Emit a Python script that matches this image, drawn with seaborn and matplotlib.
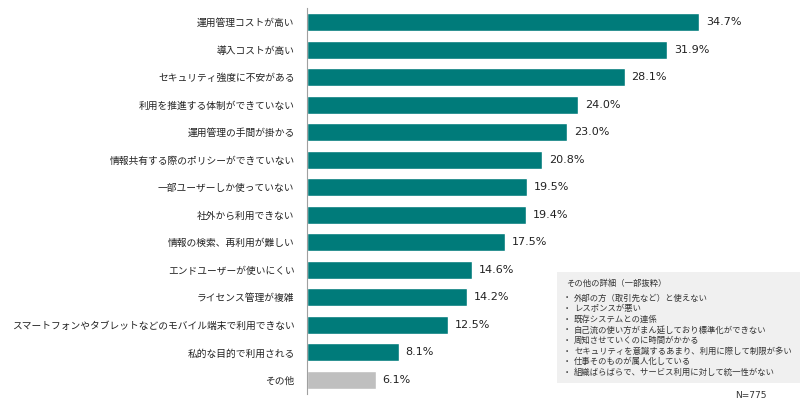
import matplotlib
matplotlib.use('Agg')
import matplotlib.pyplot as plt
import pandas as pd
import seaborn as sns
from matplotlib.patches import Rectangle
from matplotlib.ticker import FixedLocator

# Data
labels = [
    '運用管理コストが高い', '導入コストが高い', 'セキュリティ強度に不安がある',
    '利用を推進する体制ができていない', '運用管理の手間が掛かる',
    '情報共有する際のポリシーができていない', '一部ユーザーしか使っていない',
    '社外から利用できない', '情報の検索、再利用が難しい', 'エンドユーザーが使いにくい',
    'ライセンス管理が複雑', 'スマートフォンやタブレットなどのモバイル端末で利用できない',
    '私的な目的で利用される', 'その他',
]
values = [34.7, 31.9, 28.1, 24.0, 23.0, 20.8, 19.5, 19.4, 17.5, 14.6, 14.2, 12.5, 8.1, 6.1]
other_title = 'その他の詳細（一部抜粋）'
other_items = [
    '外部の方（取引先など）と使えない',
    'レスポンスが悪い',
    '既存システムとの連係',
    '自己流の使い方がまん延しており標準化ができない',
    '周知させていくのに時間がかかる',
    'セキュリティを意識するあまり、利用に際して制限が多い',
    '仕事そのものが属人化している',
    '組織ばらばらで、サービス利用に対して統一性がない',
]
n_text = 'N=775'

TEAL = '#007B7A'
GRAY = '#BFBFBF'

sns.set_theme(style='white')
plt.rcParams['font.family'] = ['Noto Sans CJK JP', 'DejaVu Sans']

df = pd.DataFrame({'label': labels, 'value': values})
colors = {lab: (GRAY if lab == 'その他' else TEAL) for lab in labels}

fig = plt.figure(figsize=(8, 4.03), dpi=100)
ax = fig.add_axes([0.38375, 0.023, 0.565, 0.9565])

sns.barplot(data=df, y='label', x='value', hue='label', palette=colors,
            order=labels, legend=False, width=0.65, saturation=1, ax=ax)

ax.set_xlim(0, 40)
ax.set_ylim(len(labels) - 0.5, -0.5)
ax.set_xlabel('')
ax.set_ylabel('')
ax.set_xticks([])

for sp in ['top', 'right', 'bottom']:
    ax.spines[sp].set_visible(False)
ax.spines['left'].set_color('#A0A0A0')
ax.spines['left'].set_linewidth(0.8)

ax.tick_params(axis='y', which='major', length=0, pad=9, labelsize=7, labelcolor='#222222')
ax.yaxis.set_minor_locator(FixedLocator([i - 0.5 for i in range(len(labels) + 1)]))
ax.tick_params(axis='y', which='minor', length=4, direction='inout', color='#A0A0A0', width=0.8)

for i, v in enumerate(values):
    ax.text(v + 0.6, i, f'{v:.1f}%', va='center', ha='left', fontsize=8,
            color='#222222', family=['DejaVu Sans'])

# Box with details of "other"
fig.patches.append(Rectangle((557 / 800, 1 - 383 / 403), 243 / 800, 111 / 403,
                             transform=fig.transFigure, facecolor='#F0F0F0',
                             edgecolor='none', zorder=0))
fig.text(566 / 800, 1 - 283 / 403, other_title, fontsize=6, va='center', ha='left', color='#333333')
for k, item in enumerate(other_items):
    y = 1 - (298 + k * 10.6) / 403
    fig.text(563 / 800, y, '・', fontsize=6, va='center', ha='left', color='#333333')
    fig.text(574 / 800, y, item, fontsize=6, va='center', ha='left', color='#333333')

fig.text(735 / 800, 1 - 396 / 403, n_text, fontsize=6.5, va='center', ha='left',
         color='#333333', family=['DejaVu Sans'])

fig.savefig('out.png', dpi=100)
